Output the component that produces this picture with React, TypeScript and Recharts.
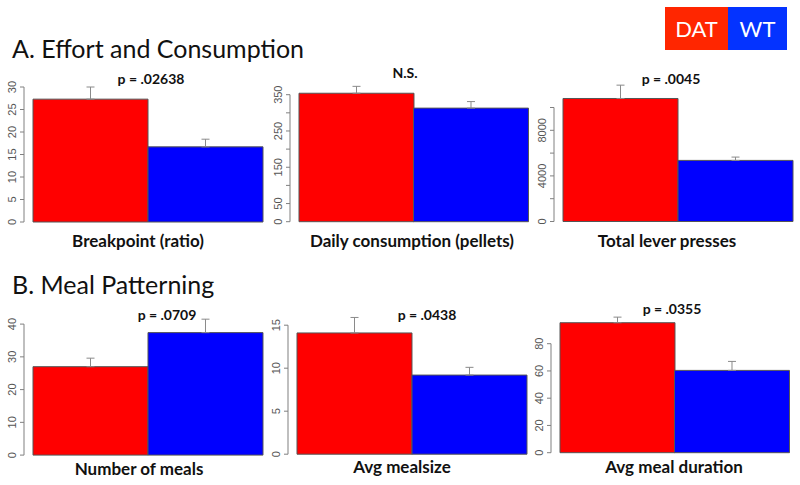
import { Bar, BarChart, Cell, ErrorBar, XAxis, YAxis } from "recharts"

const groups = ["DAT", "WT"]
const barColors = ["#FF0000", "#0000FF"]

// A. Effort and Consumption
const breakpoint = [27.3, 16.7]
const breakpointErr = [2.7, 1.7]
const daily = [354, 313]
const dailyErr = [19, 18]
const lever = [10790, 5360]
const leverErr = [1170, 290]

// B. Meal Patterning
const meals = [27.0, 37.4]
const mealsErr = [2.6, 4.1]
const mealsize = [14.1, 9.2]
const mealsizeErr = [1.8, 0.9]
const duration = [95.4, 60.4]
const durationErr = [4.1, 6.6]

const breakpointTicks = [0, 5, 10, 15, 20, 25, 30]
const dailyTicks = [0, 50, 100, 150, 200, 250, 300, 350]
const dailyLabels = [0, 50, 150, 250, 350]
const leverTicks = [0, 2000, 4000, 6000, 8000, 10000]
const leverLabels = [0, 4000, 8000]
const mealsTicks = [0, 10, 20, 30, 40]
const mealsizeTicks = [0, 5, 10, 15]
const durationTicks = [0, 20, 40, 60, 80]

const AXIS_GAP = 9
const AXIS_W = 40
const BOTTOM_PAD = 10
const AXIS_COLOR = "#808080"

const makeTick = (labels: number[]) => {
  let y0 = 0
  return (props: any) => {
    const { x, y, payload, index, visibleTicksCount } = props
    const ax = x - AXIS_GAP
    if (index === 0) y0 = y
    const show = labels.includes(payload.value)
    return (
      <g>
        <line x1={ax} x2={ax - 4} y1={y} y2={y} stroke={AXIS_COLOR} />
        {index === visibleTicksCount - 1 && (
          <line x1={ax} x2={ax} y1={y} y2={y0} stroke={AXIS_COLOR} />
        )}
        {show && (
          <text
            transform={`translate(${ax - 8},${y}) rotate(-90)`}
            textAnchor="middle"
            fill="#555"
            fontSize={11}
            fontFamily="Liberation Sans, Arial, sans-serif"
          >
            {payload.value}
          </text>
        )}
      </g>
    )
  }
}

interface PanelProps {
  values: number[]
  errs: number[]
  ticks: number[]
  labels?: number[]
  yMax: number
  left: number
  right: number
  zeroY: number
  topTickY: number
}

function Panel({ values, errs, ticks, labels, yMax, left, right, zeroY, topTickY }: PanelProps) {
  const data = groups.map((g, i) => ({ group: g, value: values[i], err: [0, errs[i]] }))
  const topTick = ticks[ticks.length - 1]
  const chartTop = zeroY - ((zeroY - topTickY) * yMax) / topTick
  const chartLeft = left - AXIS_W
  const width = right - chartLeft + 1
  const height = zeroY - chartTop + BOTTOM_PAD
  return (
    <div style={{ position: "absolute", left: chartLeft, top: chartTop }}>
      <BarChart
        width={width}
        height={height}
        data={data}
        margin={{ top: 0, right: 1, bottom: BOTTOM_PAD, left: 0 }}
        barCategoryGap={0}
        barGap={0}
      >
        <XAxis dataKey="group" hide />
        <YAxis
          type="number"
          domain={[0, yMax]}
          ticks={ticks}
          width={AXIS_W}
          axisLine={false}
          tickLine={false}
          tickSize={0}
          tickMargin={0}
          interval={0}
          tick={makeTick(labels ?? ticks)}
        />
        <Bar dataKey="value" stroke="#555" strokeWidth={1} isAnimationActive={false}>
          {data.map((d, i) => (
            <Cell key={d.group} fill={barColors[i]} />
          ))}
          <ErrorBar
            dataKey="err"
            direction="y"
            width={4}
            stroke="#8a8a8a"
            strokeWidth={1}
            isAnimationActive={false}
          />
        </Bar>
      </BarChart>
    </div>
  )
}

const boldText = (text: string, x: number, y: number, size: number) => (
  <div
    style={{
      position: "absolute",
      left: x,
      top: y,
      transform: "translateX(-50%)",
      whiteSpace: "nowrap",
      fontWeight: 700,
      fontSize: size,
      lineHeight: 1,
      color: "#111",
    }}
  >
    {text}
  </div>
)

export default function App() {
  return (
    <div
      style={{
        position: "absolute",
        left: 0,
        top: 0,
        width: 800,
        height: 485,
        background: "#fff",
        fontFamily: "Lato, 'Open Sans', sans-serif",
        overflow: "hidden",
      }}
    >
      <div style={{ position: "absolute", left: 12, top: 36, fontSize: 25, lineHeight: 1, color: "#111" }}>
        A. Effort and Consumption
      </div>
      <div style={{ position: "absolute", left: 12, top: 272, fontSize: 25, lineHeight: 1, color: "#111" }}>
        B. Meal Patterning
      </div>

      <div style={{ position: "absolute", left: 665, top: 7, width: 63, height: 43, background: "#FF2600", color: "#fff", fontSize: 22, display: "flex", alignItems: "center", justifyContent: "center" }}>
        DAT
      </div>
      <div style={{ position: "absolute", left: 728, top: 7, width: 59, height: 43, background: "#0433FF", color: "#fff", fontSize: 22, display: "flex", alignItems: "center", justifyContent: "center" }}>
        WT
      </div>

      <Panel values={breakpoint} errs={breakpointErr} ticks={breakpointTicks} yMax={32} left={33} right={263} zeroY={222} topTickY={87} />
      <Panel values={daily} errs={dailyErr} ticks={dailyTicks} labels={dailyLabels} yMax={385} left={299} right={528} zeroY={222} topTickY={95} />
      <Panel values={lever} errs={leverErr} ticks={leverTicks} labels={leverLabels} yMax={12500} left={563} right={793} zeroY={221} topTickY={107} />
      <Panel values={meals} errs={mealsErr} ticks={mealsTicks} yMax={44} left={33} right={263} zeroY={455} topTickY={324} />
      <Panel values={mealsize} errs={mealsizeErr} ticks={mealsizeTicks} yMax={17} left={297} right={527} zeroY={454} topTickY={325} />
      <Panel values={duration} errs={durationErr} ticks={durationTicks} yMax={104} left={560} right={789} zeroY={453} topTickY={344} />

      {boldText("p = .02638", 151, 72, 14)}
      {boldText("N.S.", 405, 66, 14)}
      {boldText("p = .0045", 671, 72, 14)}
      {boldText("p = .0709", 167, 308, 14)}
      {boldText("p = .0438", 427, 308, 14)}
      {boldText("p = .0355", 672, 302, 14)}

      {boldText("Breakpoint (ratio)", 138, 232, 17)}
      {boldText("Daily consumption (pellets)", 412, 232, 17)}
      {boldText("Total lever presses", 667, 232, 17)}
      {boldText("Number of meals", 139, 460, 17)}
      {boldText("Avg mealsize", 402, 458, 17)}
      {boldText("Avg meal duration", 674, 458, 17)}
    </div>
  )
}
